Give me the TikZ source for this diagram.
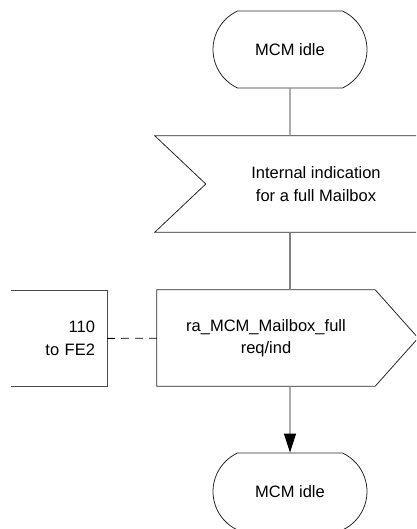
\documentclass[tikz,border=0pt]{standalone}
\usepackage{fontspec}
\setmainfont{Liberation Sans}
\usetikzlibrary{shapes.misc,arrows.meta}
\tikzset{
	state/.style={rounded rectangle, rounded rectangle arc length=130, draw=black!85, line width=.8pt, minimum width=154pt, minimum height=77pt, inner sep=0pt},
	sig/.style={minimum height=\boxh pt, inner sep=0pt, align=center},
	outline/.style={draw=black!85, line width=.8pt},
	flow/.style={draw=gray, line width=1.1pt}
}
\begin{document}
\begin{tikzpicture}[x=1pt,y=-1pt,font=\fontsize{16.5}{22.5}\selectfont]
			\useasboundingbox (0,0) rectangle (416,529);
			\clip (0,0) rectangle (416,529);
			\def\boxh{96}
			%states
			\node[state] (idle) at (290,49.5) {MCM idle};
			\node[state] (idle2) at (290,491.5) {MCM idle};
			%input signal
			\node[sig, minimum width=322pt] (indication) at (316,184) {Internal indication\\for a full Mailbox};
			\draw[outline] (indication.north west) -- (indication.north east) -- (indication.south east) -- (indication.south west) -- ([xshift=51pt]indication.west) -- cycle;
			%output signal
			\node[sig, minimum width=218pt] (req) at (266,338) {ra\_MCM\_Mailbox\_full\\req/ind};
			\draw[outline] (req.north west) -- (req.north east) -- ([xshift=43pt]req.east) -- (req.south east) -- (req.south west) -- cycle;
			%other side
			\node[sig, minimum width=96pt, text width=72pt, align=right] (fe2) at (59,338.5) {110\hspace*{.28em}\\to FE2};
			\draw[draw=black!70, line width=.8pt] (fe2.north west) -- (fe2.north east) -- (fe2.south east) -- (fe2.south west);
			% flow
			\draw[flow,-{Triangle[length=19pt,width=12pt,color=black,fill=black]}] (idle |- req.south) -- (idle2);
			\draw[flow] (idle) -- (idle |- indication.north);
			\draw[flow] (idle |- indication.south) -- (idle |- req.north);
			\draw[black, line width=.8pt, dash pattern=on 8pt off 6pt] (fe2) -- (req);
		\end{tikzpicture}
\end{document}
